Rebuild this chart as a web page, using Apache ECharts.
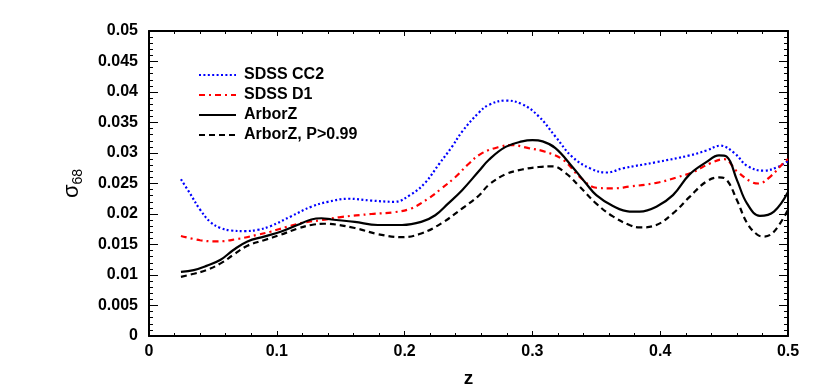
<!DOCTYPE html>
<html>
<head>
<meta charset="utf-8">
<script src="https://cdn.jsdelivr.net/npm/echarts@6/dist/echarts.min.js"></script>
<style>
  html, body { margin: 0; padding: 0; background: #fff; }
  #sigma-chart { width: 830px; height: 387px; }
</style>
</head>
<body>
<div id="sigma-chart"></div>
<script>
// values (z, sigma_68)
const zCC2 = [0.025, 0.032, 0.040, 0.048, 0.056, 0.064, 0.075, 0.085, 0.095, 0.111, 0.127, 0.140, 0.156, 0.174, 0.192, 0.205, 0.216, 0.227, 0.237, 0.245, 0.258, 0.266, 0.279, 0.292, 0.305, 0.318, 0.331, 0.345, 0.358, 0.371, 0.397, 0.423, 0.436, 0.447, 0.458, 0.468, 0.481, 0.492, 0.500];
const sCC2 = [0.0257, 0.0234, 0.0207, 0.0187, 0.0177, 0.0173, 0.0172, 0.0174, 0.0180, 0.0196, 0.0212, 0.0220, 0.0225, 0.0222, 0.0220, 0.0232, 0.0251, 0.0282, 0.0310, 0.0335, 0.0366, 0.0379, 0.0386, 0.0380, 0.0360, 0.0327, 0.0294, 0.0275, 0.0268, 0.0275, 0.0285, 0.0296, 0.0304, 0.0312, 0.0300, 0.0279, 0.0271, 0.0277, 0.0287];

const zD1 = [0.025, 0.040, 0.053, 0.069, 0.085, 0.095, 0.108, 0.121, 0.135, 0.150, 0.174, 0.192, 0.205, 0.219, 0.229, 0.240, 0.250, 0.260, 0.274, 0.284, 0.297, 0.310, 0.324, 0.337, 0.350, 0.363, 0.376, 0.397, 0.413, 0.426, 0.439, 0.450, 0.460, 0.471, 0.477, 0.486, 0.497, 0.500];
const sD1 = [0.0164, 0.0157, 0.0155, 0.0159, 0.0166, 0.0171, 0.0179, 0.0186, 0.0190, 0.0195, 0.0200, 0.0203, 0.0209, 0.0226, 0.0242, 0.0261, 0.0282, 0.0299, 0.0310, 0.0313, 0.0308, 0.0302, 0.0289, 0.0261, 0.0243, 0.0242, 0.0245, 0.0251, 0.0260, 0.0269, 0.0283, 0.0290, 0.0270, 0.0253, 0.0250, 0.0261, 0.0285, 0.0290];

const zArbor = [0.025, 0.035, 0.045, 0.056, 0.066, 0.077, 0.090, 0.103, 0.116, 0.127, 0.135, 0.143, 0.161, 0.179, 0.198, 0.213, 0.224, 0.234, 0.245, 0.258, 0.266, 0.279, 0.292, 0.300, 0.308, 0.318, 0.331, 0.342, 0.350, 0.363, 0.376, 0.384, 0.397, 0.410, 0.423, 0.436, 0.446, 0.452, 0.460, 0.468, 0.478, 0.489, 0.500];
const sArbor = [0.0105, 0.0108, 0.0115, 0.0125, 0.0141, 0.0155, 0.0163, 0.0171, 0.0182, 0.0191, 0.0193, 0.0191, 0.0187, 0.0182, 0.0182, 0.0187, 0.0198, 0.0217, 0.0239, 0.0270, 0.0289, 0.0310, 0.0319, 0.0321, 0.0319, 0.0308, 0.0278, 0.0250, 0.0231, 0.0213, 0.0204, 0.0204, 0.0212, 0.0231, 0.0265, 0.0285, 0.0296, 0.0294, 0.0256, 0.0217, 0.0197, 0.0204, 0.0236];

const zArborP = [0.025, 0.035, 0.045, 0.056, 0.066, 0.077, 0.090, 0.103, 0.116, 0.127, 0.137, 0.161, 0.179, 0.198, 0.213, 0.229, 0.245, 0.258, 0.266, 0.279, 0.292, 0.305, 0.316, 0.326, 0.337, 0.350, 0.363, 0.376, 0.384, 0.397, 0.410, 0.423, 0.436, 0.446, 0.452, 0.460, 0.468, 0.476, 0.481, 0.489, 0.500];
const sArborP = [0.0097, 0.0102, 0.0108, 0.0119, 0.0133, 0.0148, 0.0157, 0.0166, 0.0176, 0.0182, 0.0184, 0.0177, 0.0167, 0.0162, 0.0168, 0.0185, 0.0209, 0.0230, 0.0248, 0.0265, 0.0273, 0.0277, 0.0278, 0.0267, 0.0245, 0.0217, 0.0196, 0.0182, 0.0178, 0.0182, 0.0201, 0.0228, 0.0253, 0.0260, 0.0256, 0.0223, 0.0185, 0.0166, 0.0163, 0.0171, 0.0207];

const seriesNames = ['SDSS CC2', 'SDSS D1', 'ArborZ', 'ArborZ, P>0.99'];

function pairs(xs, ys) {
  return xs.map((x, i) => [x, ys[i]]);
}

const myChart = echarts.init(document.getElementById('sigma-chart'));

const font = 'Liberation Sans, Arial, Helvetica, sans-serif';

const option = {
  animation: false,
  grid: { left: 149, right: 42, top: 31, bottom: 51, outerBoundsMode: 'none', containLabel: false },
  legend: {
    data: seriesNames,
    orient: 'vertical',
    left: 193,
    top: 62,
    itemWidth: 37,
    itemHeight: 12,
    itemGap: 4,
    itemStyle: { opacity: 0 },
    textStyle: { fontFamily: font, fontWeight: 'bold', fontSize: 16, color: '#000', lineHeight: 15, padding: [0, 0, 0, 3] }
  },
  xAxis: [
    {
      type: 'value',
      min: 0, max: 0.5, interval: 0.1,
      name: 'z',
      nameLocation: 'middle',
      nameGap: 33,
      nameTextStyle: { fontFamily: font, fontWeight: 'bold', fontSize: 19, color: '#000' },
      axisLine: { show: true, lineStyle: { color: '#000', width: 2 } },
      axisTick: { show: true, inside: true, length: 5, lineStyle: { color: '#000', width: 1 } },
      minorTick: { show: true, splitNumber: 5, length: 3, lineStyle: { color: '#000' } },
      splitLine: { show: false },
      axisLabel: {
        margin: 8,
        fontFamily: font, fontWeight: 'bold', fontSize: 16, color: '#000',
        formatter: (v) => (v === 0 ? '0' : String(+v.toFixed(1)))
      }
    },
    {
      type: 'value',
      position: 'top',
      min: 0, max: 0.5, interval: 0.1,
      axisLine: { show: true, onZero: false, lineStyle: { color: '#000', width: 2 } },
      axisTick: { show: true, inside: true, length: 5, lineStyle: { color: '#000' } },
      minorTick: { show: true, splitNumber: 5, length: 3, lineStyle: { color: '#000' } },
      splitLine: { show: false },
      axisLabel: { show: false }
    }
  ],
  yAxis: [
    {
      type: 'value',
      min: 0, max: 0.05, interval: 0.005,
      name: '{s|σ}{sub|68}',
      nameLocation: 'middle',
      nameGap: 64,
      nameRotate: 90,
      nameTextStyle: {
        color: '#000',
        rich: {
          s: { fontFamily: font, fontSize: 22, color: '#000' },
          sub: { fontFamily: font, fontSize: 14, color: '#000', padding: [12, 0, 0, 0] }
        }
      },
      axisLine: { show: true, lineStyle: { color: '#000', width: 2 } },
      axisTick: { show: true, inside: true, length: 9, lineStyle: { color: '#000' } },
      minorTick: { show: true, splitNumber: 5, length: 4, lineStyle: { color: '#000' } },
      splitLine: { show: false },
      axisLabel: {
        margin: 11,
        fontFamily: font, fontWeight: 'bold', fontSize: 16, color: '#000',
        formatter: (v) => (v === 0 ? '0' : String(+v.toFixed(3)))
      }
    },
    {
      type: 'value',
      position: 'right',
      min: 0, max: 0.05, interval: 0.005,
      axisLine: { show: true, onZero: false, lineStyle: { color: '#000', width: 2 } },
      axisTick: { show: true, inside: true, length: 9, lineStyle: { color: '#000' } },
      minorTick: { show: true, splitNumber: 5, length: 4, lineStyle: { color: '#000' } },
      splitLine: { show: false },
      axisLabel: { show: false }
    }
  ],
  series: [
    {
      name: 'SDSS CC2',
      type: 'line',
      smooth: 0.4,
      showSymbol: false,
      symbol: 'none',
      color: '#0000ff',
      lineStyle: { color: '#0000ff', width: 2.2, type: [2, 2.4] },
      data: pairs(zCC2, sCC2)
    },
    {
      name: 'SDSS D1',
      type: 'line',
      smooth: 0.4,
      showSymbol: false,
      symbol: 'none',
      color: '#ff0000',
      lineStyle: { color: '#ff0000', width: 2.2, type: [6, 4, 2, 4] },
      data: pairs(zD1, sD1)
    },
    {
      name: 'ArborZ',
      type: 'line',
      smooth: 0.4,
      showSymbol: false,
      symbol: 'none',
      color: '#000',
      lineStyle: { color: '#000', width: 2.2, type: 'solid' },
      data: pairs(zArbor, sArbor)
    },
    {
      name: 'ArborZ, P>0.99',
      type: 'line',
      smooth: 0.4,
      showSymbol: false,
      symbol: 'none',
      color: '#000',
      lineStyle: { color: '#000', width: 2.2, type: [6, 4] },
      data: pairs(zArborP, sArborP)
    }
  ]
};

myChart.setOption(option);
</script>
</body>
</html>
